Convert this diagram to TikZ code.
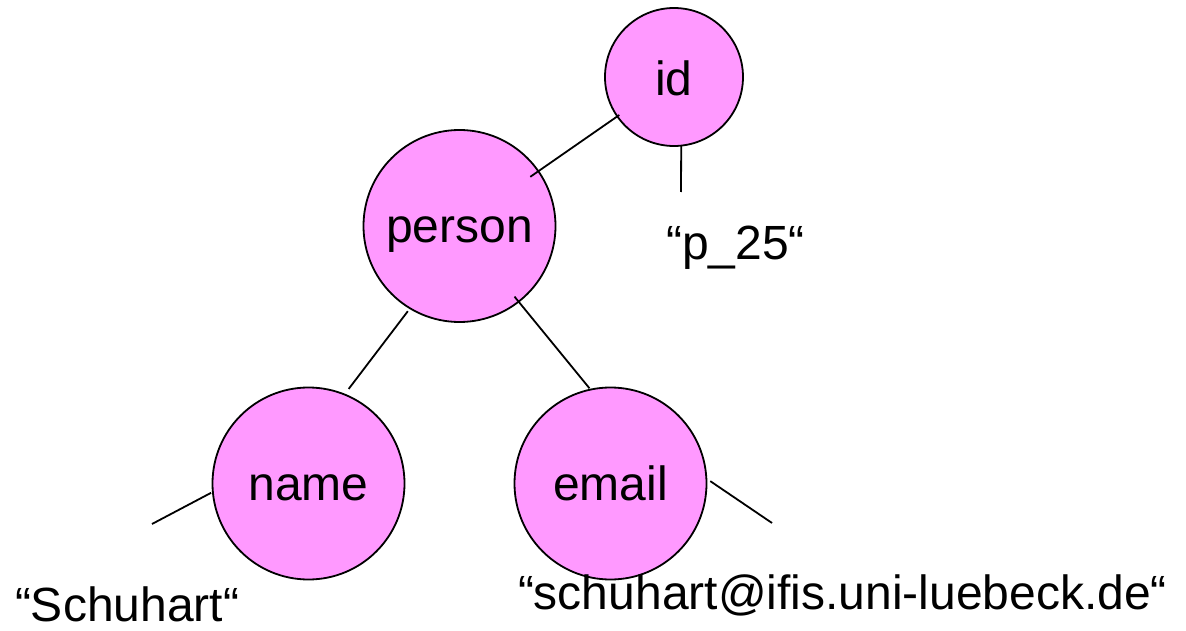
\documentclass[tikz,border=0pt]{standalone}
\usepackage{fontspec}
\setmainfont{Liberation Sans}
\definecolor{nodepink}{HTML}{FF99FF}
\tikzset{
  elem/.style={circle, draw=black, line width=1.8pt, fill=nodepink,
    inner sep=0pt, outer sep=0pt, text depth=0pt, text height=33pt},
  leaf/.style={inner sep=0pt, outer sep=0pt},
  edge/.style={line width=1.8pt, line cap=butt}
}
\begin{document}
\begin{tikzpicture}[x=1pt, y=-1pt, font=\fontsize{48}{58}\selectfont]
\useasboundingbox (0,0) rectangle (1186,631);

% element nodes
\node[elem, minimum size=138pt, text height=38pt] (id) at (674,77) {id};
\node[elem, minimum size=192pt] (person) at (459.5,226) {person};
\node[elem, minimum size=192pt] (name) at (308.5,483.5) {name};
\node[elem, minimum size=192pt] (email) at (610.5,483.5) {email};

% text values
\node[leaf, anchor=base] (p25) at (735.5,259) {“p\_25“};
\node[leaf, anchor=base west] (schuhart) at (15,621) {“Schuhart“};
\node[leaf, anchor=base west] (addr) at (518,609) {“schuhart@ifis.uni-luebeck.de“};

% free ends of the value edges
\coordinate (p25tip) at (681,192);
\coordinate (nametip) at (152,524);
\coordinate (emailtip) at (772,523);

% tree edges
\draw[edge, shorten <=-2.4pt, shorten >=-9.8pt] (id) -- (person);
\draw[edge, shorten <=3.7pt, shorten >=7pt] (person.239.6) -- (name.68);
\draw[edge, shorten <=-6.5pt, shorten >=1.7pt] (person.-52.5) -- (email.102.1);
\draw[edge] (id.-84) -- (p25tip);
\draw[edge, shorten <=2pt] (name.185.6) -- (nametip);
\draw[edge, shorten <=4.7pt] (email.3.1) -- (emailtip);
\end{tikzpicture}
\end{document}
